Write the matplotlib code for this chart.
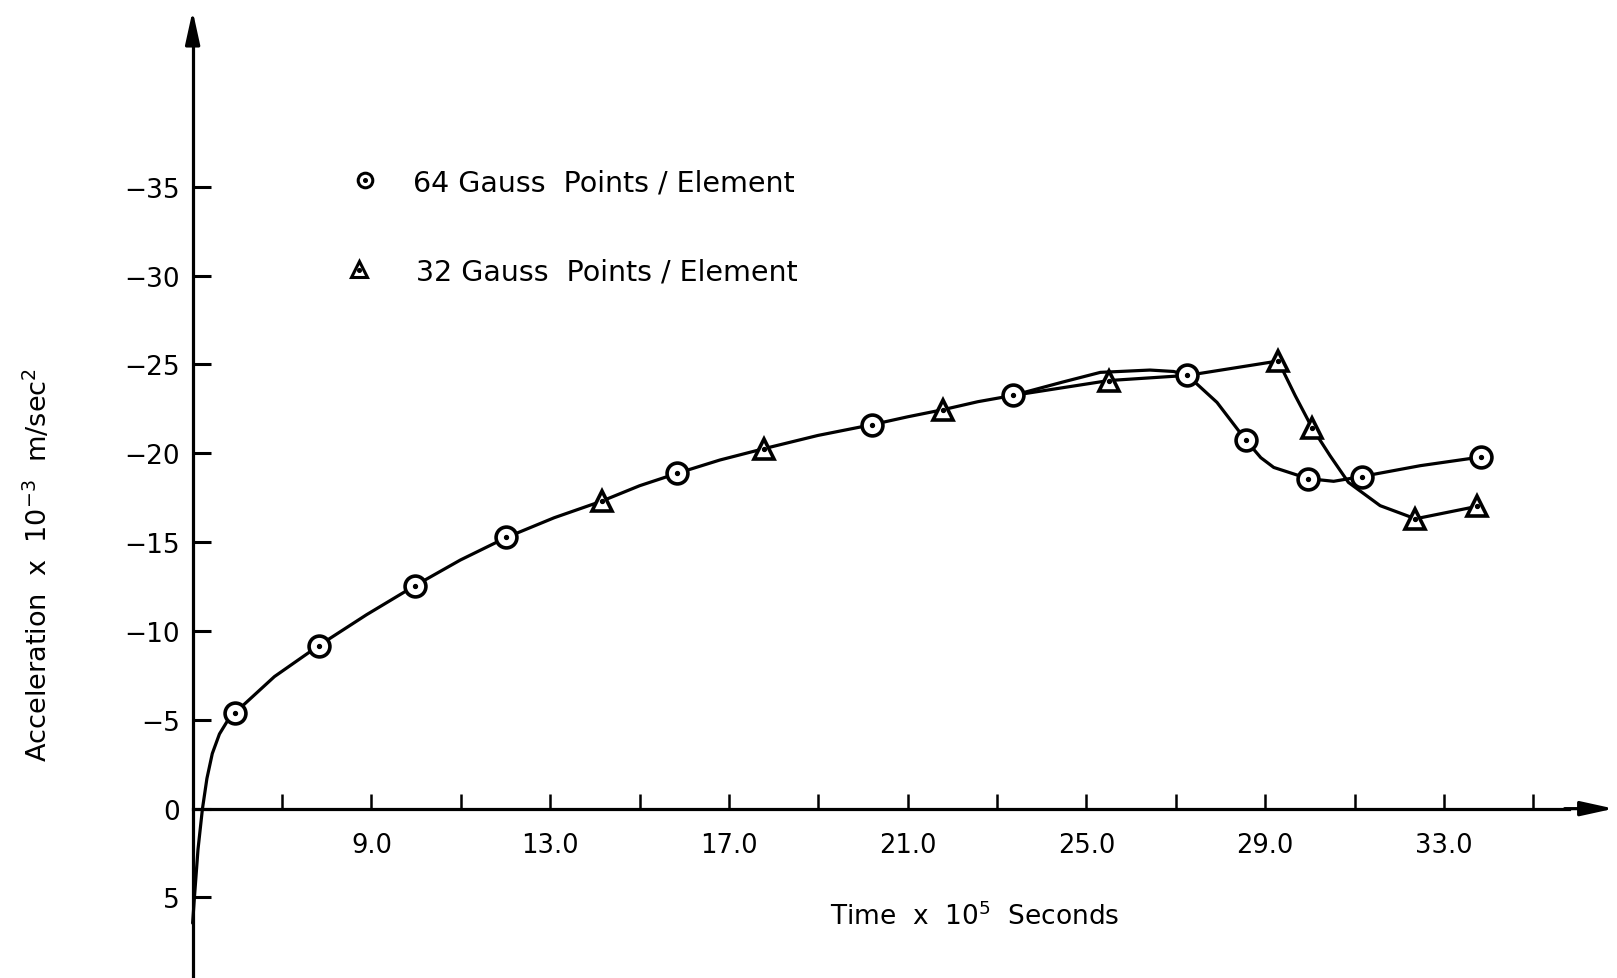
import matplotlib
matplotlib.use("Agg")
import matplotlib.pyplot as plt
from matplotlib.lines import Line2D

# ---------------- data ----------------
# 64 Gauss points / element (circles)
t64 = [5.95, 7.82, 9.97, 12.02, 15.83, 20.19, 23.35, 27.26, 28.57, 29.96, 31.16, 33.83]
a64 = [-5.40, -9.17, -12.54, -15.26, -18.86, -21.60, -23.25, -24.38, -20.72, -18.57, -18.69, -19.79]
# 32 Gauss points / element (triangles)
t32 = [14.15, 17.79, 21.79, 25.50, 29.29, 30.05, 32.36, 33.74]
a32 = [-17.30, -20.26, -22.45, -24.09, -25.19, -21.42, -16.31, -17.01]

# traced points along the drawn curves (line only)
curve64_t = [5.00, 5.04, 5.12, 5.22, 5.32, 5.44, 5.60, 5.77, 5.95, 6.83, 7.82, 8.89, 9.97,
             10.99, 12.02, 13.09, 14.15, 15.00, 15.83, 16.80, 17.79, 18.99, 20.19,
             21.00, 21.79, 22.57, 23.35, 24.46, 25.31, 26.42, 26.95, 27.26, 27.92,
             28.57, 28.90, 29.19, 29.96, 30.53, 31.16, 32.47, 33.83]
curve64_a = [6.44, 5.00, 2.30, 0.00, -1.70, -3.10, -4.20, -4.90, -5.40, -7.43, -9.17, -10.91, -12.54,
             -13.99, -15.26, -16.37, -17.30, -18.17, -18.86, -19.62, -20.26, -21.00, -21.60,
             -22.05, -22.45, -22.90, -23.25, -24.00, -24.55, -24.68, -24.60, -24.38, -22.86,
             -20.72, -19.75, -19.20, -18.57, -18.42, -18.69, -19.30, -19.79]
curve32_t = [23.35, 25.50, 27.26, 29.29, 29.67, 30.05, 30.45, 30.86, 31.57, 32.36, 33.74]
curve32_a = [-23.25, -24.09, -24.38, -25.19, -23.24, -21.42, -19.86, -18.36, -17.05, -16.31, -17.01]

ytick_vals = [-35, -30, -25, -20, -15, -10, -5, 0, 5]
ytick_labels = ["\u221235", "\u221230", "\u221225", "\u221220", "\u221215", "\u221210", "\u22125", "0", "5"]
xtick_vals = [7, 9, 11, 13, 15, 17, 19, 21, 23, 25, 27, 29, 31, 33, 35]
xtick_labels = ["", "9.0", "", "13.0", "", "17.0", "", "21.0", "", "25.0", "", "29.0", "", "33.0", ""]

legend_labels = ["64 Gauss  Points / Element", "32 Gauss  Points / Element"]

# ---------------- figure ----------------
W, H = 1617, 979
fig = plt.figure(figsize=(W / 100, H / 100), dpi=100)
ax = fig.add_axes([0, 0, 1, 1])
ax.set_xlim(0.69, 36.87)
ax.set_ylim(9.53, -45.56)
ax.set_facecolor("white")

lw_axis = 2.3
for s in ["top", "right"]:
    ax.spines[s].set_visible(False)
ax.spines["left"].set_position(("data", 5.0))
ax.spines["bottom"].set_position(("data", 0.0))
ax.spines["left"].set_bounds(9.53, -43.0)
ax.spines["bottom"].set_bounds(5.0, 35.8)
for s in ["left", "bottom"]:
    ax.spines[s].set_linewidth(lw_axis)

# arrowheads
ax.annotate("", xy=(5.0, -44.9), xytext=(5.0, -43.0),
            arrowprops=dict(arrowstyle="-|>,head_length=1.0,head_width=0.22",
                            color="black", lw=lw_axis, shrinkA=0, shrinkB=0,
                            mutation_scale=20))
ax.annotate("", xy=(36.8, 0.0), xytext=(35.7, 0.0),
            arrowprops=dict(arrowstyle="-|>,head_length=1.0,head_width=0.22",
                            color="black", lw=lw_axis, shrinkA=0, shrinkB=0,
                            mutation_scale=20))

ax.set_yticks(ytick_vals)
ax.set_yticklabels(ytick_labels)
ax.set_xticks(xtick_vals)
ax.set_xticklabels(xtick_labels)
ax.tick_params(axis="y", direction="in", length=13, width=2.2, pad=9, labelsize=19)
ax.tick_params(axis="x", direction="in", length=11, width=1.8, pad=17, labelsize=18.5)

# curves
ax.plot(curve64_t, curve64_a, color="black", lw=2.3, solid_capstyle="round",
        solid_joinstyle="round", zorder=3)
ax.plot(curve32_t, curve32_a, color="black", lw=2.3, solid_capstyle="round",
        solid_joinstyle="round", zorder=3)

# markers
ax.plot(t64, a64, linestyle="none", marker="o", ms=15, mfc="white", mec="black", mew=2.6, zorder=4)
ax.plot(t64, a64, linestyle="none", marker="o", ms=2.8, mfc="black", mec="black", zorder=5)
ax.plot(t32, a32, linestyle="none", marker="^", ms=15, mfc="white", mec="black", mew=2.6, zorder=4)
ax.plot(t32, a32, linestyle="none", marker="o", ms=2.8, mfc="black", mec="black", zorder=5)

# legend (manual, as in the drawing)
def fx(px):
    return px / W

def fy(py):
    return 1 - py / H

ax.add_line(Line2D([fx(365)], [fy(181)], transform=ax.transAxes, marker="o", ms=10.5,
                   mfc="white", mec="black", mew=2.2, linestyle="none"))
ax.add_line(Line2D([fx(365)], [fy(181)], transform=ax.transAxes, marker="o", ms=2.6,
                   mfc="black", mec="black", linestyle="none"))
ax.add_line(Line2D([fx(359)], [fy(270)], transform=ax.transAxes, marker="^", ms=11,
                   mfc="white", mec="black", mew=2.2, linestyle="none"))
ax.add_line(Line2D([fx(359)], [fy(271)], transform=ax.transAxes, marker="o", ms=2.6,
                   mfc="black", mec="black", linestyle="none"))
ax.text(fx(413), fy(183), legend_labels[0], transform=ax.transAxes, fontsize=20.5,
        ha="left", va="center")
ax.text(fx(416), fy(273), legend_labels[1], transform=ax.transAxes, fontsize=20.5,
        ha="left", va="center")

# axis titles
ax.text(fx(975), fy(925), r"Time  x  10$^{5}$  Seconds", transform=ax.transAxes,
        fontsize=19, ha="center", va="baseline")
ax.text(fx(38), fy(565), r"Acceleration  x  10$^{-3}$  m/sec$^{2}$", transform=ax.transAxes,
        fontsize=19.5, ha="center", va="center", rotation=90)

fig.savefig("out.png", dpi=100, facecolor="white")
